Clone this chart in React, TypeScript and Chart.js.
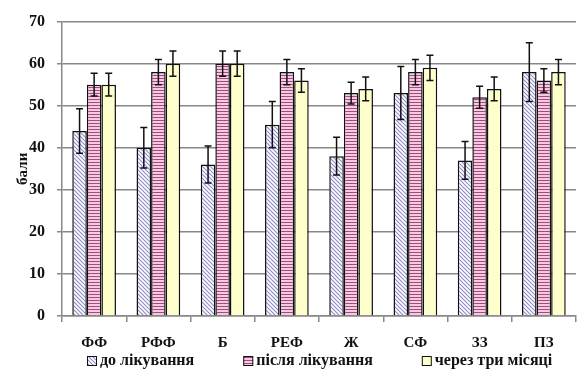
import React, { useEffect, useRef } from "react";
import { Chart, registerables } from "chart.js";

Chart.register(...registerables);

const categories = ["ФФ", "РФФ", "Б", "РЕФ", "Ж", "СФ", "ЗЗ", "ПЗ"];
const seriesLabels = ["до лікування", "після лікування", "через три місяці"];
const beforeValues = [44, 40, 36, 45.5, 38, 53, 37, 58];
const beforeErrors = [5.3, 4.8, 4.4, 5.5, 4.5, 6.3, 4.5, 7];
const afterValues = [55, 58, 60, 58, 53, 58, 52, 56];
const afterErrors = [2.7, 3, 3, 3, 2.6, 3, 2.6, 2.8];
const threeMonthValues = [55, 60, 60, 56, 54, 59, 54, 58];
const threeMonthErrors = [2.7, 3, 3, 2.8, 2.8, 3, 2.8, 3];
const yTicks = [0, 10, 20, 30, 40, 50, 60, 70];
const yTitle = "бали";

const FONT = "'Liberation Serif', 'DejaVu Serif', serif";

function makeDiagonal(): CanvasPattern | string {
  const c = document.createElement("canvas");
  c.width = 4;
  c.height = 4;
  const g = c.getContext("2d");
  if (!g) return "#ccccee";
  g.fillStyle = "#ffffff";
  g.fillRect(0, 0, 4, 4);
  g.strokeStyle = "#8c8cc8";
  g.lineWidth = 1.1;
  g.beginPath();
  g.moveTo(-1, -1);
  g.lineTo(5, 5);
  g.moveTo(-1, 3);
  g.lineTo(1, 5);
  g.moveTo(3, -1);
  g.lineTo(5, 1);
  g.stroke();
  return g.createPattern(c, "repeat") || "#ccccee";
}

function makeHorizontal(): CanvasPattern | string {
  const c = document.createElement("canvas");
  c.width = 4;
  c.height = 3;
  const g = c.getContext("2d");
  if (!g) return "#d890b8";
  g.fillStyle = "#f4cce2";
  g.fillRect(0, 0, 4, 3);
  g.fillStyle = "#a8487e";
  g.fillRect(0, 0, 4, 1);
  return g.createPattern(c, "repeat") || "#d890b8";
}

export default function App() {
  const ref = useRef<HTMLCanvasElement | null>(null);

  useEffect(() => {
    if (!ref.current) return;
    const fills = [makeDiagonal(), makeHorizontal(), "#ffffcc"];
    const values = [beforeValues, afterValues, threeMonthValues];
    const errors = [beforeErrors, afterErrors, threeMonthErrors];

    const errorBars = {
      id: "errorBars",
      afterDatasetsDraw(chart: any) {
        const ctx = chart.ctx;
        const y = chart.scales.y;
        ctx.save();
        ctx.strokeStyle = "#111";
        ctx.lineWidth = 1.5;
        chart.data.datasets.forEach((ds: any, i: number) => {
          const meta = chart.getDatasetMeta(i);
          meta.data.forEach((el: any, j: number) => {
            const v = values[i][j];
            const e = errors[i][j];
            const yt = y.getPixelForValue(v + e);
            const yb = y.getPixelForValue(v - e);
            const x = el.x;
            ctx.beginPath();
            ctx.moveTo(x, yt);
            ctx.lineTo(x, yb);
            ctx.moveTo(x - 3.5, yt);
            ctx.lineTo(x + 3.5, yt);
            ctx.moveTo(x - 3.5, yb);
            ctx.lineTo(x + 3.5, yb);
            ctx.stroke();
          });
        });
        ctx.restore();
      },
    };

    const customLegend = {
      id: "customLegend",
      afterDraw(chart: any) {
        const ctx = chart.ctx;
        const yc = chart.height - 11;
        ctx.save();
        ctx.font = `bold 16px ${FONT}`;
        ctx.textBaseline = "middle";
        ctx.textAlign = "left";
        let x = chart.chartArea.left + 25;
        chart.data.datasets.forEach((ds: any) => {
          ctx.fillStyle = ds.backgroundColor;
          ctx.fillRect(x, yc - 5, 10, 10);
          ctx.strokeStyle = "#111";
          ctx.lineWidth = 1;
          ctx.strokeRect(x + 0.5, yc - 4.5, 9, 9);
          ctx.fillStyle = "#111";
          const tx = x + 13;
          ctx.fillText(ds.label, tx, yc);
          x = tx + ctx.measureText(ds.label).width + 49;
        });
        ctx.restore();
      },
    };

    const chart = new Chart(ref.current, {
      type: "bar",
      data: {
        labels: categories,
        datasets: seriesLabels.map((label, i) => ({
          label,
          data: values[i],
          backgroundColor: fills[i],
          borderColor: "#111",
          borderWidth: 1.5,
          borderSkipped: "bottom",
          categoryPercentage: 0.68,
          barPercentage: 1,
        })),
      },
      options: {
        animation: false,
        responsive: false,
        devicePixelRatio: 1,
        layout: { padding: { top: 15, right: 1, bottom: 20, left: 0 } },
        plugins: {
          legend: { display: false },
          tooltip: { enabled: false },
        },
        scales: {
          x: {
            grid: {
              drawOnChartArea: false,
              drawTicks: true,
              tickLength: 6,
              color: "#888",
              lineWidth: 1.5,
            },
            border: { display: true, color: "#888", width: 1.5 },
            ticks: {
              padding: 12,
              color: "#111",
              font: { family: FONT, size: 15, weight: "bold" },
            },
            afterFit(scale: any) {
              scale.height = 36;
            },
          },
          y: {
            min: 0,
            max: 70,
            afterBuildTicks(scale: any) {
              scale.ticks = yTicks.map((v) => ({ value: v }));
            },
            grid: {
              color: "#888",
              lineWidth: 1.5,
              drawTicks: true,
              tickLength: 5,
            },
            border: { display: true, color: "#888", width: 1.5 },
            ticks: {
              padding: 12,
              color: "#111",
              font: { family: FONT, size: 16, weight: "bold" },
            },
            title: {
              display: true,
              text: yTitle,
              color: "#111",
              font: { family: FONT, size: 15, weight: "bold" },
              padding: { top: 14, bottom: 0 },
            },
            afterFit(scale: any) {
              scale.width = 62;
            },
          },
        },
      },
      plugins: [errorBars, customLegend],
    });
    return () => chart.destroy();
  }, []);

  return (
    <div style={{ position: "absolute", left: 0, top: 0, width: 577, height: 372, background: "#fff" }}>
      <canvas ref={ref} width={577} height={372} />
    </div>
  );
}
